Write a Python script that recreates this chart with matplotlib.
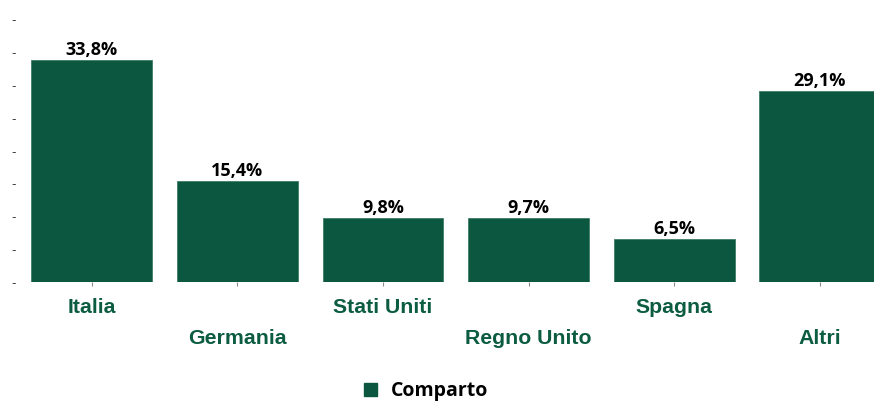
import matplotlib
matplotlib.use("Agg")
import matplotlib.pyplot as plt
from matplotlib.patches import Patch

# Dati
paesi = ["Italia", "Germania", "Stati Uniti", "Regno Unito", "Spagna", "Altri"]
valori = [33.8, 15.4, 9.8, 9.7, 6.5, 29.1]
y_ticks = [0, 5, 10, 15, 20, 25, 30, 35, 40]
serie = "Comparto"

VERDE = "#0b5740"
VERDE_TXT = "#0b5c40"

fig = plt.figure(figsize=(8.74, 4.01), dpi=100)
W, H = 874, 401
ax = fig.add_axes([19 / W, (H - 282) / H, (W - 19) / W, 282 / H])

x = list(range(len(paesi)))
ax.bar(x, valori, width=0.83, color=VERDE, edgecolor="#3f7d64", linewidth=0.6)

ax.set_xlim(-0.5, -0.5 + (W - 19) / 145.6)
ax.set_ylim(0, 42.9)
ax.set_yticks(y_ticks)
ax.set_yticklabels(["-"] * len(y_ticks), fontsize=9, color="#404040")
ax.tick_params(axis="y", length=0, pad=2)
ax.set_xticks(x)
ax.set_xticklabels([""] * len(x))
ax.tick_params(axis="x", length=3, width=0.8, color="#8a8a8a", direction="out")
for s in ax.spines.values():
    s.set_visible(False)

# etichette valori
for xi, v in zip(x, valori):
    ax.annotate(f"{v:.1f}%".replace(".", ","), xy=(xi, v), xytext=(0, 5),
                textcoords="offset pixels", ha="center", va="baseline",
                fontsize=13, fontweight="bold", family="Open Sans", color="black")

# etichette categorie sfalsate
for i, nome in enumerate(paesi):
    off = 31 if i % 2 == 0 else 62
    ax.annotate(nome, xy=(i, 0), xycoords=("data", "axes fraction"),
                xytext=(0, -off), textcoords="offset pixels", ha="center",
                va="baseline", fontsize=15.3, fontweight="bold",
                family="Liberation Sans", color=VERDE_TXT)

fig.legend(handles=[Patch(facecolor=VERDE, edgecolor=VERDE, label=serie)],
           loc="center", bbox_to_anchor=(426 / W, (H - 391) / H), frameon=False,
           handlelength=0.65, handleheight=0.65, handletextpad=0.7,
           prop={"family": "Open Sans", "weight": "bold", "size": 14})

fig.savefig("out.png", dpi=100)
